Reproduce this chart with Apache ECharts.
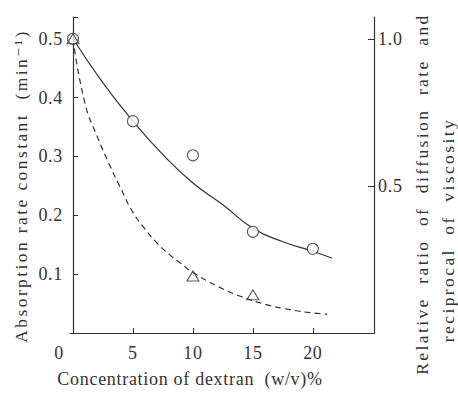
<!DOCTYPE html>
<html>
<head>
<meta charset="utf-8">
<script src="https://cdn.jsdelivr.net/npm/echarts@6/dist/echarts.min.js"></script>
<style>
html, body { margin: 0; padding: 0; background: #fff; }
#chart { width: 458px; height: 393px; }
/* old-print look: spaced letters (svg renderer) */
#chart text { letter-spacing: 0.7px; }
#chart text[style*="17.5px"] { letter-spacing: 2.4px; }
</style>
</head>
<body>
<div id="chart"></div>
<script>
// measured points (circles: absorption rate constant)
var circleX = [0, 5, 10, 15, 20];
var circleY = [0.5, 0.36, 0.302, 0.172, 0.143];
// triangles: relative ratio (left axis scale)
var triX = [0, 10, 15];
var triY = [0.5, 0.097, 0.065];
// solid fitted curve
var solidX = [0, 2.5, 5, 7.5, 10, 12.5, 15, 17.5, 20, 21.6];
var solidY = [0.5, 0.425, 0.36, 0.303, 0.255, 0.218, 0.178, 0.155, 0.139, 0.127];
// dashed curve
var dashX = [0, 1, 2, 3, 4, 5, 6, 7, 8, 9, 10, 12, 14, 16, 18, 20, 21.2];
var dashY = [0.5, 0.39, 0.335, 0.288, 0.245, 0.205, 0.177, 0.153, 0.134, 0.118, 0.103, 0.08, 0.062, 0.049, 0.04, 0.034, 0.032];
// tick labels
var xLabels = [0, 5, 10, 15, 20];
var leftTicks = [0.1, 0.2, 0.3, 0.4, 0.5];
var rightTicks = [0.5, 1.0];

function pairs(xs, ys) {
	var out = [];
	for (var i = 0; i < xs.length; i++) {
		out.push([xs[i], ys[i]]);
	}
	return out;
}

function drawChart() {
	var dom = document.getElementById("chart");
	var myChart = echarts.init(dom, null, { renderer: 'svg' });
	var ink = '#333';
	var font = '"Liberation Serif", "DejaVu Serif", serif';
	var option = {
		backgroundColor: '#fff',
		animation: false,
		textStyle: { fontFamily: font, color: ink },
		grid: { left: 70, right: 84, top: 17, bottom: 52 },
		xAxis: {
			type: 'value',
			min: -0.25,
			max: 25.1,
			name: 'Concentration of dextran  (w/v)%',
			nameLocation: 'middle',
			nameGap: 37,
			nameTextStyle: { fontSize: 18, fontFamily: font, color: ink, padding: [0, 64, 0, 0] },
			axisLine: { lineStyle: { color: ink, width: 1.2 } },
			splitLine: { show: false },
			axisTick: { inside: true, length: 5, customValues: [5, 10, 15, 20], lineStyle: { color: ink } },
			axisLabel: {
				customValues: xLabels,
				fontSize: 18,
				margin: 11,
				color: ink,
				formatter: function (v) {
					return v === 0 ? '{z|0}' : String(v);
				},
				rich: { z: { fontSize: 18, fontFamily: font, color: ink, padding: [0, 28, 0, 0] } }
			}
		},
		yAxis: [
			{
				type: 'value',
				min: 0,
				max: 0.537,
				interval: 0.1,
				position: 'left',
				name: 'Absorption rate constant  (min\u207B\u00B9)',
				nameLocation: 'middle',
				nameRotate: 90,
				nameGap: 38,
				nameTextStyle: { fontSize: 17.5, fontFamily: font, color: ink, padding: [0, 22, 0, 0] },
				axisLine: { show: true, lineStyle: { color: ink, width: 1.2 } },
				splitLine: { show: false },
				axisTick: { inside: true, length: 5, lineStyle: { color: ink } },
				axisLabel: {
					fontSize: 18,
					margin: 7,
					color: ink,
					customValues: leftTicks,
					formatter: function (v) { return v.toFixed(1); }
				}
			},
			{
				type: 'value',
				min: 0,
				max: 1.074,
				interval: 0.5,
				position: 'right',
				axisLine: { show: true, lineStyle: { color: ink, width: 1.2 } },
				splitLine: { show: false },
				axisTick: { inside: true, length: 6, customValues: rightTicks, lineStyle: { color: ink } },
				axisLabel: {
					fontSize: 18,
					margin: 4,
					color: ink,
					customValues: rightTicks,
					formatter: function (v) { return v.toFixed(1); }
				}
			}
		],
		graphic: [
			{
				type: 'text',
				x: 422, y: 194,
				rotation: Math.PI / 2,
				style: {
					text: 'Relative  ratio  of  diffusion  rate  and',
					font: '17.5px ' + font,
					fill: ink,
					textAlign: 'center',
					textVerticalAlign: 'middle'
				}
			},
			{
				type: 'text',
				x: 448, y: 230,
				rotation: Math.PI / 2,
				style: {
					text: 'reciprocal  of  viscosity',
					font: '17.5px ' + font,
					fill: ink,
					textAlign: 'center',
					textVerticalAlign: 'middle'
				}
			}
		],
		series: [
			{
				name: 'fit',
				type: 'line',
				data: pairs(solidX, solidY),
				smooth: true,
				showSymbol: false,
				lineStyle: { color: ink, width: 1.2 }
			},
			{
				name: 'ratio',
				type: 'line',
				data: pairs(dashX, dashY),
				smooth: true,
				showSymbol: false,
				lineStyle: { color: ink, width: 1.2, type: [6, 4] }
			},
			{
				name: 'circles',
				type: 'scatter',
				data: pairs(circleX, circleY),
				symbol: 'circle',
				symbolSize: 11,
				itemStyle: { color: '#fff', borderColor: ink, borderWidth: 1.1 },
				z: 5
			},
			{
				name: 'triangles',
				type: 'scatter',
				data: pairs(triX, triY),
				symbol: 'triangle',
				symbolSize: [12, 10],
				itemStyle: { color: 'rgba(255,255,255,0)', borderColor: ink, borderWidth: 1.1 },
				z: 6
			}
		]
	};
	myChart.setOption(option, true);
}

drawChart();
</script>
</body>
</html>
